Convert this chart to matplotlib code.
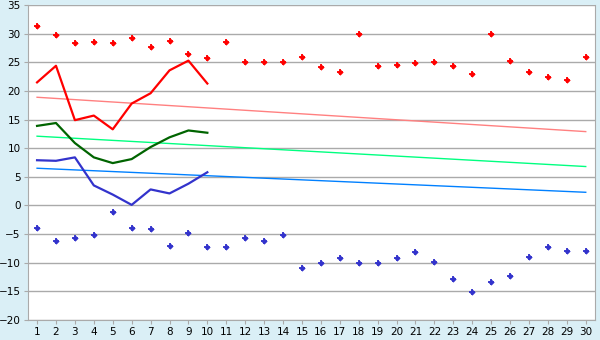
import matplotlib; matplotlib.use("Agg"); import matplotlib.pyplot as plt

days = list(range(1, 31))
max_pts = [31.3, 29.7, 28.4, 28.6, 28.4, 29.2, 27.6, 28.8, 26.4, 25.7,
           28.5, 25.0, 25.0, 25.0, 26.0, 24.1, 23.4, 30.0, 24.3, 24.6,
           24.8, 25.0, 24.3, 22.9, 30.0, 25.2, 23.4, 22.4, 22.0, 26.0]
min_pts = [-3.9, -6.2, -5.6, -5.1, -1.1, -3.9, -4.1, -7.0, -4.8, -7.2,
           -7.2, -5.6, -6.2, -5.1, -11.0, -10.0, -9.1, -10.0, -10.0, -9.1,
           -8.1, -9.8, -12.8, -15.1, -13.3, -12.3, -9.0, -7.2, -7.9, -7.9]
line_days = list(range(1, 11))
red_line = [21.5, 24.4, 14.9, 15.7, 13.3, 17.8, 19.6, 23.6, 25.3, 21.3]
green_line = [13.9, 14.4, 10.9, 8.4, 7.4, 8.1, 10.2, 11.9, 13.1, 12.7]
blue_line = [7.9, 7.8, 8.4, 3.5, 1.9, 0.1, 2.8, 2.1, 3.8, 5.8]
trend_x = [1, 30]
red_trend = [18.9, 12.9]
green_trend = [12.1, 6.8]
blue_trend = [6.5, 2.3]

fig = plt.figure(figsize=(6, 3.4), dpi=100, facecolor="#DAEFF6")
ax = fig.add_axes([0.046, 0.059, 0.946, 0.926])
ax.set_facecolor("white")

ax.plot(trend_x, red_trend, color="#FF8080", lw=1)
ax.plot(trend_x, green_trend, color="#00FF80", lw=1)
ax.plot(trend_x, blue_trend, color="#0080FF", lw=1)
ax.plot(line_days, red_line, color="#FF0000", lw=1.6)
ax.plot(line_days, green_line, color="#006400", lw=1.6)
ax.plot(line_days, blue_line, color="#3333CC", lw=1.6)
# diamond + small cross gives the chunky plus-shaped markers
for pts, c in ((max_pts, "#FF0000"), (min_pts, "#3333CC")):
    ax.plot(days, pts, ls="none", marker="D", ms=3.2, color=c, mew=0)
    ax.plot(days, pts, ls="none", marker="+", ms=5, color=c, mew=1.3)

ax.set_xlim(0.5, 30.5)
ax.set_ylim(-20, 35)
ax.set_xticks(days)
ax.set_yticks(range(-20, 36, 5))
ax.yaxis.grid(True, color="#AAAAAA", lw=1)
ax.set_axisbelow(True)
ax.tick_params(labelsize=7.5, colors="#AAAAAA", labelcolor="black", length=3, pad=2)
for s in ("left", "bottom", "right"):
    ax.spines[s].set_color("#AAAAAA")
ax.spines["top"].set_visible(False)
fig.savefig("out.png", dpi=100, facecolor=fig.get_facecolor())
